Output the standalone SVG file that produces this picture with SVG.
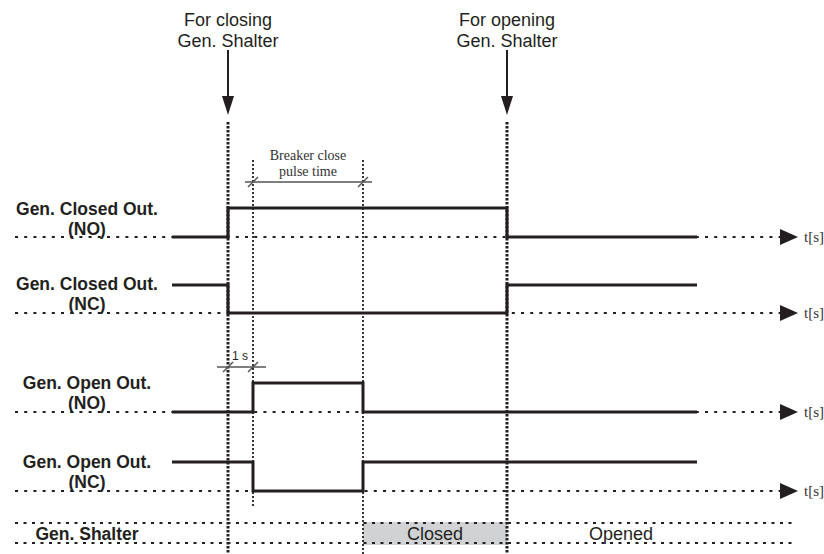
<svg xmlns="http://www.w3.org/2000/svg" width="824" height="554" viewBox="0 0 824 554">
<defs>
<style>
.lbl{font-family:"Liberation Sans",Arial,sans-serif;font-weight:bold;font-size:17.5px;fill:#231f20;text-anchor:middle}
.txt{font-family:"Liberation Sans",Arial,sans-serif;font-size:18px;fill:#231f20;text-anchor:middle}
.small{font-family:"Liberation Sans",Arial,sans-serif;font-size:12px;fill:#231f20;text-anchor:middle}
.ser{font-family:"Liberation Serif","Times New Roman",serif;font-size:15px;fill:#333}
.serm{font-family:"Liberation Serif","Times New Roman",serif;font-size:14px;fill:#333;text-anchor:middle}
.sig{fill:none;stroke:#231f20;stroke-width:3;stroke-linejoin:miter;stroke-linecap:butt}
.axis{fill:none;stroke:#231f20;stroke-width:2.2;stroke-dasharray:3 6.2}
.row{fill:none;stroke:#231f20;stroke-width:2.2;stroke-dasharray:3 5.5}
.vthick{fill:none;stroke:#231f20;stroke-width:3;stroke-dasharray:2.5 1.5}
.vthin{fill:none;stroke:#231f20;stroke-width:1.8;stroke-dasharray:2 2}
.dim{fill:none;stroke:#555;stroke-width:1.5}
.head{fill:#231f20}
</style>
</defs>
<rect width="824" height="554" fill="#fff"/>

<g id="shalter-closed-fill">
<rect x="363" y="522" width="144" height="23" fill="#d1d2d4"/>
</g>

<g id="connectors">
<line class="axis" x1="15" y1="237" x2="782" y2="237"/>
<line class="axis" x1="15" y1="313" x2="782" y2="313"/>
<line class="axis" x1="15" y1="412" x2="782" y2="412"/>
<line class="axis" x1="15" y1="491" x2="782" y2="491"/>
<polygon class="head" points="780,229 798,237 780,245"/>
<polygon class="head" points="780,305 798,313 780,321"/>
<polygon class="head" points="780,404 798,412 780,420"/>
<polygon class="head" points="780,483 798,491 780,499"/>
<line class="row" x1="15" y1="523" x2="797" y2="523"/>
<line class="row" x1="15" y1="543" x2="797" y2="543"/>
<line class="vthick" x1="228" y1="122" x2="228" y2="554"/>
<line class="vthick" x1="507" y1="122" x2="507" y2="554"/>
<line class="vthin" x1="253" y1="160" x2="253" y2="506"/>
<line class="vthin" x1="363" y1="160" x2="363" y2="554"/>
<line x1="228" y1="50" x2="228" y2="100" stroke="#231f20" stroke-width="2"/>
<polygon class="head" points="222,96 234,96 228,115"/>
<line x1="507" y1="50" x2="507" y2="100" stroke="#231f20" stroke-width="2"/>
<polygon class="head" points="501,96 513,96 507,115"/>
<line class="dim" x1="245" y1="182" x2="372" y2="182"/>
<line class="dim" x1="248" y1="187" x2="258" y2="177"/>
<line class="dim" x1="358" y1="187" x2="368" y2="177"/>
<line class="dim" x1="217" y1="367" x2="266" y2="367"/>
<line class="dim" x1="223" y1="372" x2="233" y2="362"/>
<line class="dim" x1="248" y1="372" x2="258" y2="362"/>
</g>

<g id="cmd-close">
<text class="txt" x="228" y="26">For closing</text>
<text class="txt" x="228" y="47">Gen. Shalter</text>
</g>
<g id="cmd-open">
<text class="txt" x="507" y="26">For opening</text>
<text class="txt" x="507" y="47">Gen. Shalter</text>
</g>

<g id="pulse-time">
<text class="serm" x="308" y="160">Breaker close</text>
<text class="serm" x="308" y="176">pulse time</text>
</g>
<g id="one-second">
<text class="small" x="240" y="360">1 s</text>
</g>

<g id="closed-no">
<text class="lbl" x="87" y="215">Gen. Closed Out.</text>
<text class="lbl" x="87" y="235">(NO)</text>
<polyline class="sig" points="172,237 228,237 228,208 507,208 507,237 697,237"/>
<text class="ser" x="804" y="242">t[s]</text>
</g>

<g id="closed-nc">
<text class="lbl" x="87" y="290">Gen. Closed Out.</text>
<text class="lbl" x="87" y="310">(NC)</text>
<polyline class="sig" points="172,285 228,285 228,313 507,313 507,285 697,285"/>
<text class="ser" x="804" y="318">t[s]</text>
</g>

<g id="open-no">
<text class="lbl" x="87" y="389">Gen. Open Out.</text>
<text class="lbl" x="87" y="409">(NO)</text>
<polyline class="sig" points="172,412 253,412 253,383 363,383 363,412 697,412"/>
<text class="ser" x="804" y="417">t[s]</text>
</g>

<g id="open-nc">
<text class="lbl" x="87" y="468">Gen. Open Out.</text>
<text class="lbl" x="87" y="488">(NC)</text>
<polyline class="sig" points="172,462 253,462 253,491 363,491 363,462 697,462"/>
<text class="ser" x="804" y="496">t[s]</text>
</g>

<g id="gen-shalter">
<text class="lbl" x="87" y="540">Gen. Shalter</text>
<text class="txt" x="435" y="540">Closed</text>
<text class="txt" x="621" y="540">Opened</text>
</g>
</svg>
